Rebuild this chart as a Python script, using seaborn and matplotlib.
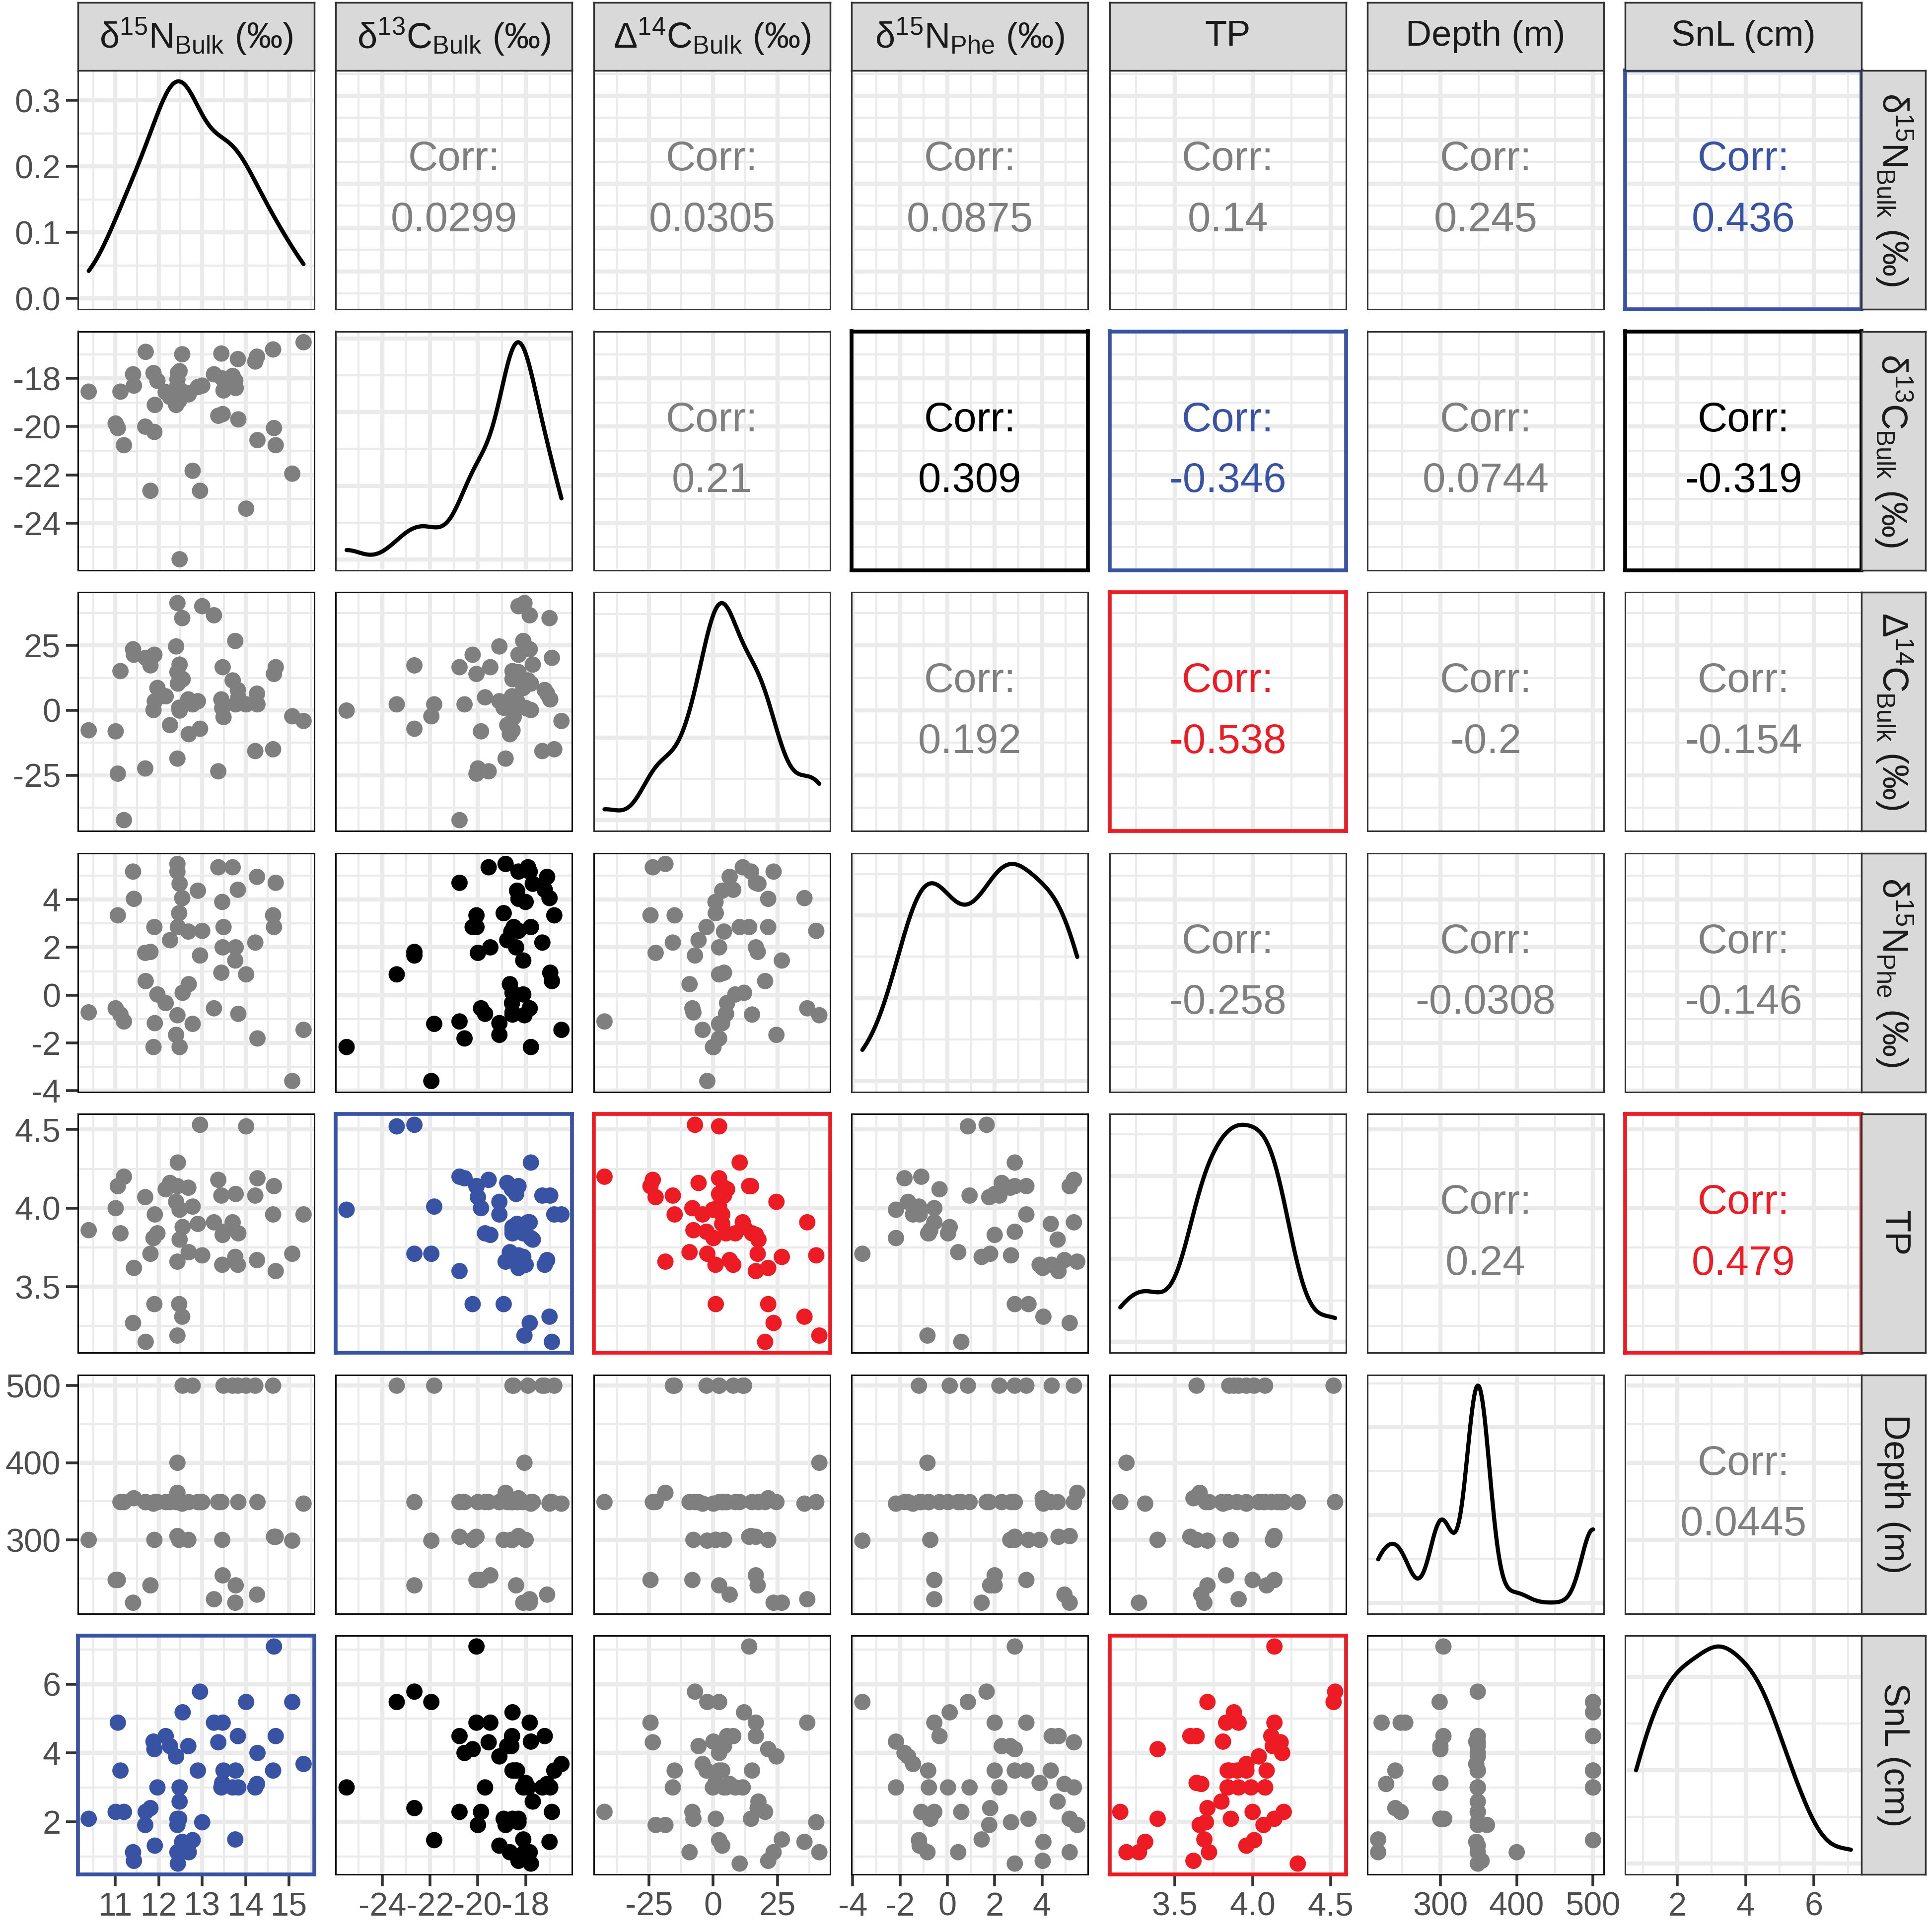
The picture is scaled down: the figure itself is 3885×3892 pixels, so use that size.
import numpy as np
import pandas as pd
import matplotlib
matplotlib.use("Agg")
import matplotlib.pyplot as plt
from matplotlib.ticker import MaxNLocator
import seaborn as sns

# ---- data (one entry per sample) ----
d15n_bulk = [10.39, 11.01, 11.06, 11.12, 11.20, 11.41, 11.43, 11.69, 11.70, 11.81,
             11.88, 11.90, 11.91, 11.97, 12.16, 12.26, 12.40, 12.43, 12.43, 12.44,
             12.43, 12.47, 12.48, 12.48, 12.54, 12.55, 12.68, 12.69, 12.78, 12.90,
             12.95, 13.00, 13.27, 13.37, 13.44, 13.46, 13.47, 13.49, 13.70, 13.76,
             13.77, 13.82, 13.83, 14.01, 14.22, 14.26, 14.27, 14.63, 14.65, 14.69,
             15.07, 15.33]
d13c_bulk = [-18.55, -19.87, -20.06, -18.55, -20.77, -17.83, -18.30, -20.00, -16.90, -22.66,
             -17.78, -20.22, -19.10, -18.10, -18.57, -18.77, -19.10, -18.84, -18.30, -17.78,
             -18.05, -18.92, -17.70, -25.50, -17.00, -18.55, -18.60, -18.66, -21.83, -18.36,
             -22.66, -18.30, -17.83, -19.55, -16.97, -18.00, -19.48, -18.50, -17.90, -18.10,
             -18.40, -17.20, -19.70, -23.40, -17.30, -17.10, -20.56, -16.80, -20.06, -20.77,
             -21.95, -16.50]
d14c_bulk = [-7.7, -8.1, -24.4, 15.1, -42.3, 23.5, 21.4, -22.4, 20.2, 17.3,
             0.1, 21.4, 3.5, 8.6, 5.4, -5.7, 24.6, -18.6, 14.7, 10.3,
             41.3, 1.0, 17.6, -0.1, 35.5, 12.0, 4.2, -9.2, 2.3, 3.5,
             -7.1, 40.1, 36.6, -23.5, 4.2, 0.9, 16.6, -2.6, 11.5, 26.7,
             2.3, 7.8, 5.0, 2.3, -15.7, 6.4, 2.3, -15.0, 14.0, 16.6,
             -2.3, -4.1]
d15n_phe = [-0.72, -0.55, 3.34, -0.81, -1.10, 5.17, 4.03, 1.77, 0.59, 1.81,
            -2.17, 2.85, -1.17, 0.03, -0.33, 2.30, -1.66, 5.49, 5.17, 2.85,
            -0.84, 3.43, 4.66, -2.17, 4.06, 0.10, 2.66, 0.46, -1.20, 4.37,
            1.66, 2.69, -0.55, 5.35, 0.94, 3.90, 2.00, 2.85, 5.35, 1.45,
            2.00, 4.41, -0.78, 0.87, 2.20, 4.95, -1.81, 3.34, 2.85, 4.70,
            -3.59, -1.45]
tp = [3.86, 4.00, 4.14, 3.84, 4.20, 3.27, 3.62, 4.07, 3.15, 3.71,
      3.81, 3.39, 3.96, 3.84, 4.12, 4.16, 4.04, 3.66, 4.14, 4.29,
      3.19, 3.39, 3.80, 3.99, 3.31, 3.88, 4.13, 3.72, 4.01, 3.90,
      4.53, 3.70, 3.91, 4.18, 4.08, 3.64, 3.83, 3.85, 3.91, 3.69,
      4.09, 3.64, 3.84, 4.52, 4.08, 3.67, 4.19, 3.96, 4.14, 3.60,
      3.71, 3.96]
depth = [300, 248, 248, 349, 349, 218.5, 354, 349, 349, 241,
         347, 300, 349, 349, 349, 349, 349, 361, 305, 349,
         400, 300, 349, np.nan, 347, 500, 300, 349, 500, 349,
         349, 349, 223, 349, 349, 300, 254, 500, 500, 218.5,
         241, 500, 349, 500, 500, 229, 349, 500, 304, 304,
         299, 347]
snl = [2.09, 2.29, 4.88, 3.49, 2.29, 1.12, 0.87, 1.91, 2.29, 2.40,
       4.33, 4.11, 1.31, 3.00, 4.49, 4.20, 3.90, 1.91, 2.09, 0.79,
       1.12, 2.09, 2.59, 3.00, 1.42, 5.18, 4.20, 1.12, 1.47, 3.49,
       5.78, 1.99, 4.88, 4.31, 3.00, 3.13, 4.88, 3.49, 3.00, 1.49,
       3.49, 4.49, 3.00, 5.48, 3.00, 3.10, 4.00, 3.49, 7.09, 4.49,
       5.48, 3.68]

var_labels = ['δ$^{15}$N$_{\\mathrm{Bulk}}$ (‰)', 'δ$^{13}$C$_{\\mathrm{Bulk}}$ (‰)',
              'Δ$^{14}$C$_{\\mathrm{Bulk}}$ (‰)', 'δ$^{15}$N$_{\\mathrm{Phe}}$ (‰)',
              'TP', 'Depth (m)', 'SnL (cm)']
var_breaks = [[11, 12, 13, 14, 15], [-24, -22, -20, -18], [-25, 0, 25],
              [-4, -2, 0, 2, 4], [3.5, 4.0, 4.5], [300, 400, 500], [2, 4, 6]]
var_ticklabels = [['11', '12', '13', '14', '15'], ['-24', '-22', '-20', '-18'],
                  ['-25', '0', '25'], ['-4', '-2', '0', '2', '4'],
                  ['3.5', '4.0', '4.5'], ['300', '400', '500'], ['2', '4', '6']]

# upper-triangle correlation labels: (row, col) -> text
corr_text = {(0, 1): '0.0299', (0, 2): '0.0305', (0, 3): '0.0875', (0, 4): '0.14',
             (0, 5): '0.245', (0, 6): '0.436',
             (1, 2): '0.21', (1, 3): '0.309', (1, 4): '-0.346', (1, 5): '0.0744',
             (1, 6): '-0.319',
             (2, 3): '0.192', (2, 4): '-0.538', (2, 5): '-0.2', (2, 6): '-0.154',
             (3, 4): '-0.258', (3, 5): '-0.0308', (3, 6): '-0.146',
             (4, 5): '0.24', (4, 6): '0.479',
             (5, 6): '0.0445'}
# significant pairs and their colour
signif = {(0, 6): 'blue', (1, 3): 'black', (1, 4): 'blue', (1, 6): 'black',
          (2, 4): 'red', (4, 6): 'red'}

colours = {'grey': '#7F7F7F', 'blue': '#3953A4', 'red': '#ED1C24', 'black': '#000000'}

df = pd.DataFrame({'d15n_bulk': d15n_bulk, 'd13c_bulk': d13c_bulk,
                   'd14c_bulk': d14c_bulk, 'd15n_phe': d15n_phe,
                   'tp': tp, 'depth': depth, 'snl': snl})
cols = list(df.columns)
nvar = len(cols)

sns.set_style("white")
plt.rcParams['font.family'] = ['Liberation Sans', 'DejaVu Sans']
plt.rcParams['mathtext.fontset'] = 'custom'
plt.rcParams['mathtext.rm'] = 'Liberation Sans'
plt.rcParams['mathtext.it'] = 'Liberation Sans:italic'
plt.rcParams['mathtext.bf'] = 'Liberation Sans:bold'

W, H = 3885, 3892
fig = plt.figure(figsize=(W / 100, H / 100), dpi=100)

x0, y0 = 157, 142          # top-left panel corner (px)
pw, ph = 476, 481          # panel size
dx, dy = 519.4, 525.5      # pitch

GRID = '#EBEBEB'
TICK_FS = 48
STRIP_FS = 52
CORR_FS = 60


def px_axes(left, top, w, h):
    return fig.add_axes([left / W, 1 - (top + h) / H, w / W, h / H])


def data_lims(v):
    v = np.asarray(v, dtype=float)
    lo, hi = np.nanmin(v), np.nanmax(v)
    r = hi - lo
    return lo - 0.05 * r, hi + 0.05 * r


def minors(major, lims):
    step = major[1] - major[0]
    m = np.arange(major[0] - step / 2, major[-1] + step, step)
    return [t for t in m if lims[0] <= t <= lims[1]]


def nrd0_factor(v):
    # R's default bandwidth, expressed as a factor of the sd
    v = np.asarray(v, dtype=float)
    v = v[~np.isnan(v)]
    sd = v.std(ddof=1)
    iqr = np.subtract(*np.percentile(v, [75, 25]))
    bw = 0.9 * min(sd, iqr / 1.34) * len(v) ** (-0.2)
    return bw / sd


lims = [data_lims(df[c]) for c in cols]

for r in range(nvar):
    for c in range(nvar):
        ax = px_axes(x0 + c * dx, y0 + r * dy, pw, ph)
        ax.set_facecolor('white')
        ax.set_axisbelow(True)
        xb = var_breaks[c]
        ax.set_xlim(*lims[c])
        ax.set_xticks(xb)
        ax.set_xticks(minors(xb, lims[c]), minor=True)

        border_col, border_lw = '#333333', 2.2
        if r == c:
            sns.kdeplot(x=df[cols[c]], ax=ax, bw_method=nrd0_factor(df[cols[c]]),
                        cut=0, color='black', linewidth=6)
            ymax = max(ax.lines[-1].get_ydata())
            ylim = (-0.05 * ymax, 1.05 * ymax)
            ax.set_ylim(*ylim)
            yb = [t for t in MaxNLocator(nbins=4, steps=[1, 2, 2.5, 5, 10]).tick_values(*ylim)
                  if ylim[0] <= t <= ylim[1]]
            ax.set_yticks(yb)
            ax.set_yticks(minors(yb, ylim), minor=True)
            ax.set_yticklabels(['%.1f' % t for t in yb])
        else:
            ax.set_ylim(*lims[r])
            yb = var_breaks[r]
            ax.set_yticks(yb)
            ax.set_yticks(minors(yb, lims[r]), minor=True)
            ax.set_yticklabels(var_ticklabels[r])
            if r > c:
                key = (c, r)
                cname = signif.get(key, 'grey')
                sns.scatterplot(x=df[cols[c]], y=df[cols[r]], ax=ax,
                                color=colours[cname], s=560, edgecolor='none',
                                linewidth=0, legend=False)
                border_col = '#111111'
                if cname in ('blue', 'red'):
                    border_col, border_lw = colours[cname], 5.5
            else:
                key = (r, c)
                cname = signif.get(key, 'grey')
                tcol = colours[cname]
                ax.text(0.5, 0.627, 'Corr:', transform=ax.transAxes, ha='center',
                        va='center', fontsize=CORR_FS, color=tcol)
                ax.text(0.5, 0.373, corr_text[key], transform=ax.transAxes,
                        ha='center', va='center', fontsize=CORR_FS, color=tcol)
                if key in signif:
                    border_col, border_lw = tcol, 5.5

        ax.set_xlabel('')
        ax.set_ylabel('')
        ax.set_xticklabels(var_ticklabels[c])
        ax.grid(which='major', color=GRID, linewidth=6)
        ax.grid(which='minor', color=GRID, linewidth=3)
        ax.tick_params(which='minor', length=0)
        ax.tick_params(which='major', length=17, width=4, color='#333333',
                       labelsize=TICK_FS, labelcolor='#4D4D4D', pad=8,
                       left=(c == 0), labelleft=(c == 0),
                       bottom=(r == nvar - 1), labelbottom=(r == nvar - 1))
        for sp in ax.spines.values():
            sp.set_visible(True)
            sp.set_color(border_col)
            sp.set_linewidth(border_lw)

# strips on top and right
for i in range(nvar):
    sa = px_axes(x0 + i * dx, 5, pw, y0 - 5)
    sa.set_facecolor('#D9D9D9')
    sa.set_xticks([])
    sa.set_yticks([])
    for sp in sa.spines.values():
        sp.set_color('#333333')
        sp.set_linewidth(2.5)
    sa.text(0.5, 0.5, var_labels[i], transform=sa.transAxes, ha='center',
            va='center', fontsize=STRIP_FS, color='#1A1A1A')

    ra = px_axes(x0 + 6 * dx + pw, y0 + i * dy, 129, ph)
    ra.set_facecolor('#D9D9D9')
    ra.set_xticks([])
    ra.set_yticks([])
    for sp in ra.spines.values():
        sp.set_color('#333333')
        sp.set_linewidth(2.5)
    ra.text(0.5, 0.5, var_labels[i], transform=ra.transAxes, ha='center',
            va='center', fontsize=STRIP_FS, color='#1A1A1A', rotation=-90)

fig.savefig('out.png', dpi=100)
